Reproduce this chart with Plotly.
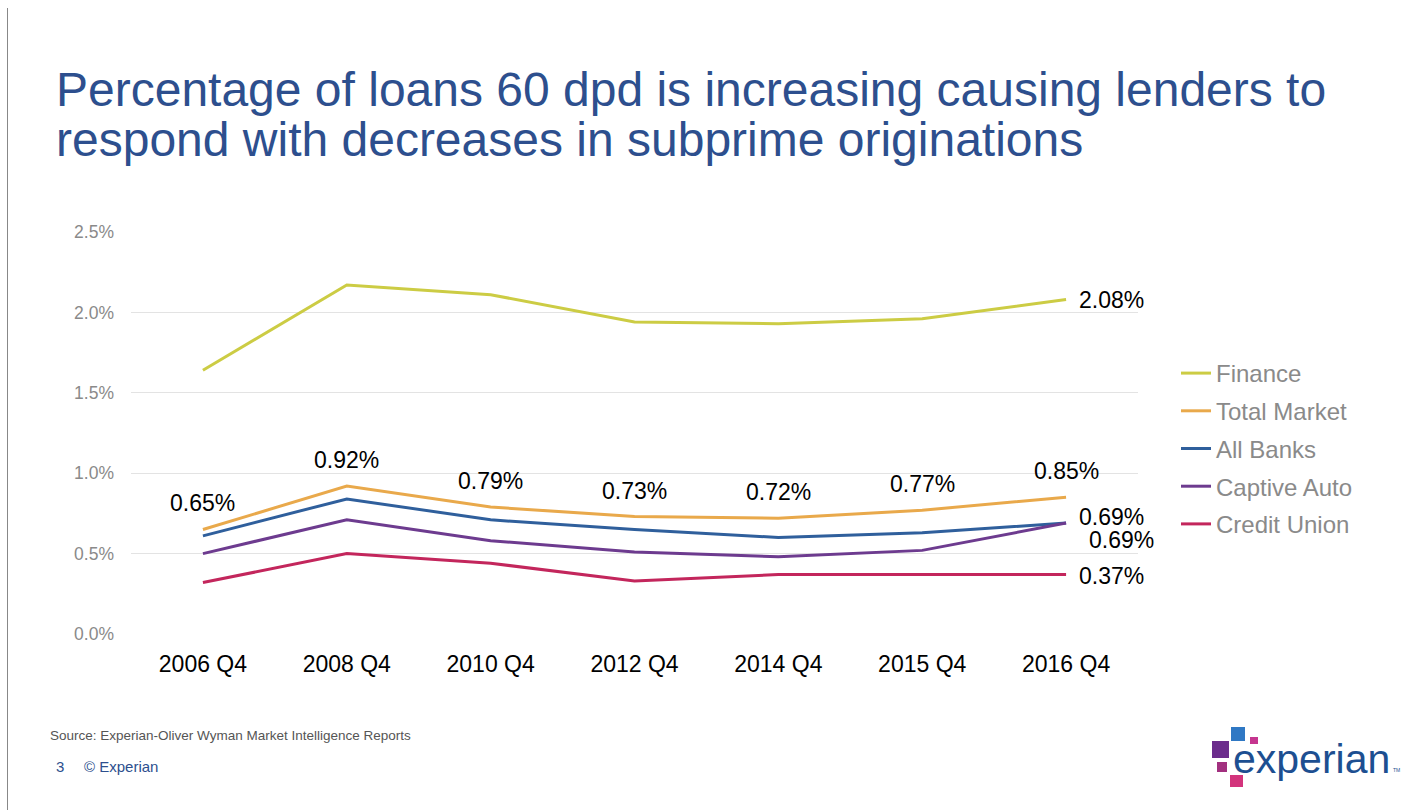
import plotly.graph_objects as go

categories = ["2006 Q4", "2008 Q4", "2010 Q4", "2012 Q4", "2014 Q4", "2015 Q4", "2016 Q4"]
finance = [1.64, 2.17, 2.11, 1.94, 1.93, 1.96, 2.08]
total_market = [0.65, 0.92, 0.79, 0.73, 0.72, 0.77, 0.85]
all_banks = [0.61, 0.84, 0.71, 0.65, 0.60, 0.63, 0.69]
captive_auto = [0.50, 0.71, 0.58, 0.51, 0.48, 0.52, 0.69]
credit_union = [0.32, 0.50, 0.44, 0.33, 0.37, 0.37, 0.37]
y_ticks = [0, 0.5, 1.0, 1.5, 2.0, 2.5]
y_tick_labels = ["0.0%", "0.5%", "1.0%", "1.5%", "2.0%", "2.5%"]

OFF = 8  # page body margin
W, H = 1425 - OFF, 810 - OFF
L, R, T, B = 131, 1138, 232, 634  # screen coords of plot area
FONT = "Liberation Sans, Arial, sans-serif"

def px(x):
    return (x - L) / (R - L)

def py(y):
    return (B - y) / (B - T)

colors = {
    "Finance": "#cccc44",
    "Total Market": "#e9a94b",
    "All Banks": "#2f5f9c",
    "Captive Auto": "#6d3b8f",
    "Credit Union": "#c3265c",
}

fig = go.Figure()
series = [("Finance", finance), ("Total Market", total_market), ("All Banks", all_banks),
          ("Captive Auto", captive_auto), ("Credit Union", credit_union)]
for name, vals in series:
    fig.add_trace(go.Scatter(x=categories, y=vals, name=name, legendgroup=name, mode="lines",
                             line=dict(color=colors[name], width=3), hoverinfo="skip"))

# Total Market labels above points
for c, v in zip(categories, total_market):
    fig.add_annotation(x=c, y=v, text=f"{v:.2f}%", showarrow=False, xanchor="center", yanchor="middle",
                       yshift=26, font=dict(size=23, color="#000000", family=FONT))

# end labels
end_labels = [(finance[-1], 0, 0), (all_banks[-1], 0, 6), (captive_auto[-1], 10, -17), (credit_union[-1], 0, -1)]
for v, xs, ys in end_labels:
    fig.add_annotation(x=categories[-1], y=v, text=f"{v:.2f}%", showarrow=False, xanchor="left",
                       yanchor="middle", xshift=11 + xs, yshift=ys,
                       font=dict(size=23, color="#000000", family=FONT))

# title
title_color = "#2d4f8e"
fig.add_annotation(xref="paper", yref="paper", x=px(54), y=py(90), text="Percentage of loans 60 dpd is increasing causing lenders to",
                   showarrow=False, xanchor="left", yanchor="middle", font=dict(size=48, color=title_color, family=FONT))
fig.add_annotation(xref="paper", yref="paper", x=px(54), y=py(140), text="respond with decreases in subprime originations",
                   showarrow=False, xanchor="left", yanchor="middle", font=dict(size=48, color=title_color, family=FONT))

# footer
fig.add_annotation(xref="paper", yref="paper", x=px(48), y=py(735), text="Source: Experian-Oliver Wyman Market Intelligence Reports",
                   showarrow=False, xanchor="left", yanchor="middle", font=dict(size=13.5, color="#555555", family=FONT))
fig.add_annotation(xref="paper", yref="paper", x=px(54), y=py(766), text="3",
                   showarrow=False, xanchor="left", yanchor="middle", font=dict(size=15, color="#2d4f8e", family=FONT))
fig.add_annotation(xref="paper", yref="paper", x=px(82), y=py(766), text="© Experian",
                   showarrow=False, xanchor="left", yanchor="middle", font=dict(size=15, color="#2d4f8e", family=FONT))

# logo
def sq(x0, y0, x1, y1, c):
    fig.add_shape(type="rect", xref="paper", yref="paper", x0=px(x0), x1=px(x1), y0=py(y1), y1=py(y0),
                  fillcolor=c, line=dict(width=0), layer="above")
sq(1212, 741, 1229, 758, "#6b2c8c")
sq(1231, 727, 1245, 741, "#2f78c4")
sq(1250, 737, 1258, 744, "#c5358f")
sq(1217, 762, 1227, 772, "#a2307f")
sq(1230, 775, 1243, 787, "#d3347c")
fig.add_annotation(xref="paper", yref="paper", x=px(1231), y=py(759), text="experian",
                   showarrow=False, xanchor="left", yanchor="middle", font=dict(size=41, color="#1d4f91", family=FONT))
fig.add_annotation(xref="paper", yref="paper", x=px(1391), y=py(770), text="TM",
                   showarrow=False, xanchor="left", yanchor="middle", font=dict(size=5, color="#1d4f91", family=FONT))

fig.update_layout(
    width=W, height=H,
    margin=dict(l=L - OFF, r=W - (R - OFF), t=T - OFF, b=H - (B - OFF), pad=0),
    paper_bgcolor="white", plot_bgcolor="white",
    showlegend=True,
    legend=dict(x=px(1176), y=py(351), xanchor="left", yanchor="top",
                font=dict(size=24, color="#8a8a8a", family=FONT),
                traceorder="grouped", tracegroupgap=3.5, bgcolor="rgba(0,0,0,0)"),
    xaxis=dict(type="category", range=[-0.5, 6.5], showgrid=False, showline=False, zeroline=False,
               ticks="", tickfont=dict(size=23, color="#000000", family=FONT), ticklabelstandoff=14),
    yaxis=dict(range=[0, 2.5], tickvals=y_ticks, ticktext=y_tick_labels, showgrid=True,
               gridcolor="#e3e3e3", gridwidth=1, zeroline=False, showline=False, ticks="",
               tickfont=dict(size=17.5, color="#8a8a8a", family=FONT), ticklabelstandoff=16),
)

fig.write_html("out.html", post_script="document.body.style.borderLeft='1.5px solid #888888';document.body.style.marginLeft='6.5px';")
